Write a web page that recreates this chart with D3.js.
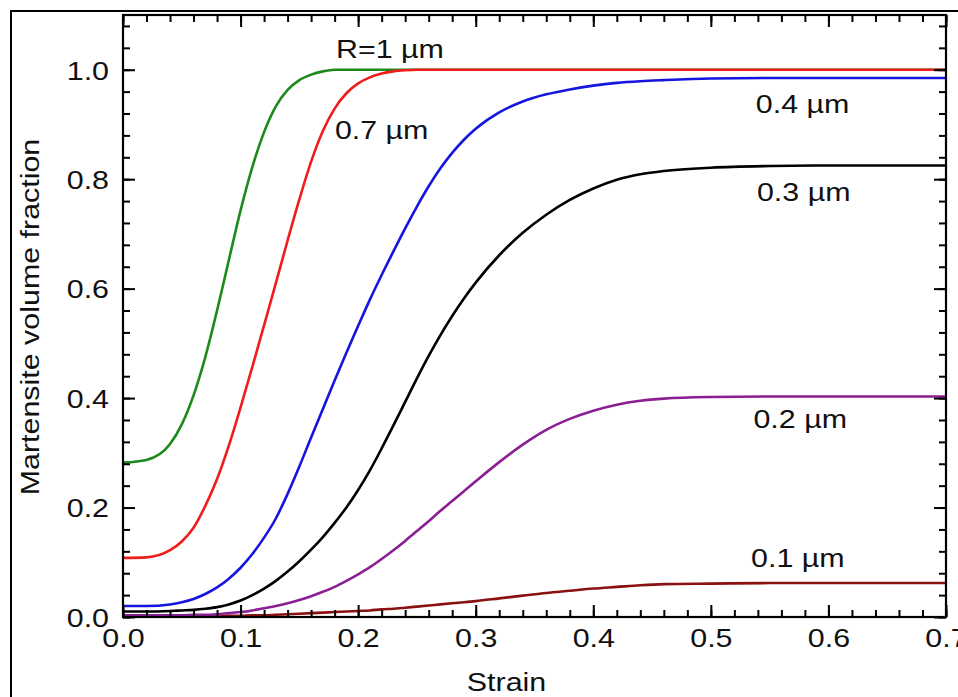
<!DOCTYPE html>
<html>
<head>
<meta charset="utf-8">
<script src="https://cdn.jsdelivr.net/npm/d3@7"></script>
<style>
  body { margin: 0; background: #fff; }
  svg { display: block; }
  text { font-family: Arial, "Liberation Sans", sans-serif; fill: #111; }
</style>
</head>
<body>
<script>
// strain grid shared by all the curves
const strain = [0, 0.02, 0.04, 0.05, 0.06, 0.07, 0.08, 0.09, 0.10, 0.11, 0.12, 0.13, 0.14, 0.15, 0.16, 0.17, 0.18, 0.19, 0.20,
  0.21, 0.22, 0.23, 0.24, 0.25, 0.26, 0.27, 0.28, 0.29, 0.30, 0.32, 0.34, 0.36, 0.38, 0.40, 0.42, 0.44, 0.46, 0.50, 0.55, 0.60, 0.70]

// martensite volume fraction for each grain radius
const r1 = [0.282, 0.287, 0.316, 0.352, 0.405, 0.475, 0.56, 0.652, 0.743, 0.822, 0.886, 0.933, 0.963, 0.981, 0.991, 0.997, 1, 1, 1,
  1, 1, 1, 1, 1, 1, 1, 1, 1, 1, 1, 1, 1, 1, 1, 1, 1, 1, 1, 1, 1, 1]
const r07 = [0.108, 0.109, 0.122, 0.138, 0.163, 0.203, 0.252, 0.313, 0.383, 0.457, 0.533, 0.61, 0.688, 0.763, 0.832, 0.888, 0.929, 0.957, 0.975,
  0.986, 0.993, 0.997, 0.999, 1, 1, 1, 1, 1, 1, 1, 1, 1, 1, 1, 1, 1, 1, 1, 1, 1, 1]
const r04 = [0.02, 0.02, 0.023, 0.027, 0.033, 0.042, 0.054, 0.07, 0.09, 0.115, 0.145, 0.18, 0.225, 0.275, 0.328, 0.38, 0.432, 0.483, 0.532,
  0.58, 0.625, 0.668, 0.71, 0.75, 0.787, 0.82, 0.848, 0.872, 0.892, 0.922, 0.942, 0.955, 0.964, 0.971, 0.976, 0.979, 0.981, 0.984, 0.985, 0.985, 0.985]
const r03 = [0.01, 0.01, 0.011, 0.012, 0.013, 0.015, 0.018, 0.023, 0.03, 0.04, 0.052, 0.066, 0.083, 0.102, 0.123, 0.146, 0.172, 0.2, 0.232,
  0.268, 0.308, 0.35, 0.393, 0.436, 0.477, 0.515, 0.55, 0.582, 0.611, 0.661, 0.702, 0.735, 0.762, 0.783, 0.799, 0.809, 0.815, 0.821, 0.824, 0.825, 0.825]
const r02 = [0.003, 0.003, 0.003, 0.003, 0.004, 0.004, 0.005, 0.007, 0.009, 0.012, 0.016, 0.02, 0.025, 0.031, 0.038, 0.046, 0.055, 0.066, 0.078,
  0.091, 0.106, 0.122, 0.139, 0.157, 0.175, 0.194, 0.212, 0.23, 0.248, 0.283, 0.315, 0.342, 0.362, 0.377, 0.388, 0.395, 0.399, 0.402, 0.403, 0.403, 0.403]
const r01 = [0, 0, 0, 0, 0.001, 0.001, 0.001, 0.002, 0.002, 0.003, 0.003, 0.004, 0.005, 0.006, 0.007, 0.008, 0.009, 0.01, 0.011,
  0.012, 0.014, 0.015, 0.017, 0.019, 0.021, 0.023, 0.025, 0.027, 0.029, 0.034, 0.039, 0.044, 0.048, 0.052, 0.055, 0.058, 0.06, 0.061, 0.062, 0.062, 0.062]

const xTicks = [0, 0.1, 0.2, 0.3, 0.4, 0.5, 0.6, 0.7]
const yTicks = [0, 0.2, 0.4, 0.6, 0.8, 1.0]

// label text and where its baseline centre sits (strain, fraction)
const curves = [
  {name: "R=1 µm", values: r1, color: "#1b8a1b", lx: 0.227, ly: 1.022},
  {name: "0.7 µm", values: r07, color: "#f01c1c", lx: 0.22, ly: 0.874},
  {name: "0.4 µm", values: r04, color: "#1515e0", lx: 0.578, ly: 0.921},
  {name: "0.3 µm", values: r03, color: "#000000", lx: 0.579, ly: 0.761},
  {name: "0.1 µm", values: r01, color: "#8b1010", lx: 0.574, ly: 0.091},
  {name: "0.2 µm", values: r02, color: "#8a1e92", lx: 0.576, ly: 0.345}
]

// the figure's lettering is wider than Arial
const stretch = "scale(1.17,1)"

function plot() {
  let margin = {top: 15, right: 12, bottom: 80, left: 123}
  let W = 958, H = 697
  let width = W - margin.left - margin.right
  let height = H - margin.top - margin.bottom

  let svg = d3.select("body").append("svg")
    .attr("width", W)
    .attr("height", H)

  // outer frame around the whole figure
  svg.append("rect")
    .attr("x", 11).attr("y", 11)
    .attr("width", W + 20).attr("height", H + 20)
    .attr("fill", "none").attr("stroke", "#000").attr("stroke-width", 2)

  let g = svg.append("g")
    .attr("transform", "translate(" + margin.left + "," + margin.top + ")")

  let x = d3.scaleLinear().domain([0, 0.7]).range([0, width])
  let y = d3.scaleLinear().domain([0, 1.1]).range([height, 0])

  g.append("clipPath").attr("id", "clip")
    .append("rect").attr("width", width).attr("height", height)

  // curves
  let line = d3.line()
    .x((d, i) => x(strain[i]))
    .y(d => y(d))
    .curve(d3.curveMonotoneX)

  g.append("g").attr("clip-path", "url(#clip)")
    .selectAll("path")
    .data(curves)
    .enter().append("path")
    .attr("d", d => line(d.values))
    .attr("fill", "none")
    .attr("stroke", d => d.color)
    .attr("stroke-width", 2.6)

  // ticks pointing inward on all four sides
  let xMinor = d3.range(0, 0.7001, 0.02)
  let yMinor = d3.range(0, 1.1001, 0.04)

  let axB = d3.axisBottom(x).tickValues(xTicks).tickSize(-12).tickFormat(d3.format(".1f"))
  let axL = d3.axisLeft(y).tickValues(yTicks).tickSize(-12).tickFormat(d3.format(".1f"))

  let minor = [
    d3.axisBottom(x).tickValues(xMinor).tickSize(-7).tickFormat(""),
    d3.axisTop(x).tickValues(xMinor).tickSize(-7).tickFormat(""),
    d3.axisLeft(y).tickValues(yMinor).tickSize(-7).tickFormat(""),
    d3.axisRight(y).tickValues(yMinor).tickSize(-7).tickFormat("")
  ]
  let major = [
    d3.axisTop(x).tickValues(xTicks).tickSize(-12).tickFormat(""),
    d3.axisRight(y).tickValues(yTicks).tickSize(-12).tickFormat("")
  ]
  let pos = ["translate(0," + height + ")", "", "", "translate(" + width + ",0)"]
  minor.forEach((a, i) => g.append("g").attr("transform", pos[i]).call(a))
  g.append("g").call(major[0])
  g.append("g").attr("transform", pos[3]).call(major[1])

  let xa = g.append("g").attr("transform", pos[0]).call(axB)
  let ya = g.append("g").call(axL)

  g.selectAll(".domain").remove()
  g.selectAll(".tick line").attr("stroke", "#000").attr("stroke-width", 2)
  g.selectAll(".tick text").attr("font-size", 26).attr("fill", "#111")
    .attr("font-family", "Arial, 'Liberation Sans', sans-serif")
  xa.selectAll(".tick text")
    .attr("y", 0).attr("dy", "0.71em")
    .attr("transform", "translate(0,12) " + stretch)
  ya.selectAll(".tick text")
    .attr("x", 0).attr("dy", "0.36em")
    .attr("transform", "translate(-14,0) " + stretch)

  // plot frame
  g.append("rect")
    .attr("width", width).attr("height", height)
    .attr("fill", "none").attr("stroke", "#000").attr("stroke-width", 2.2)

  // curve labels
  g.selectAll(".lab")
    .data(curves)
    .enter().append("text")
    .attr("class", "lab")
    .attr("transform", d => "translate(" + x(d.lx) + "," + y(d.ly) + ") " + stretch)
    .attr("text-anchor", "middle")
    .attr("font-size", 26)
    .text(d => d.name)

  // axis titles
  g.append("text")
    .attr("transform", "translate(" + (width / 2 - 28) + "," + (height + 74) + ") " + stretch)
    .attr("text-anchor", "middle")
    .attr("font-size", 26)
    .text("Strain")

  g.append("text")
    .attr("transform", "translate(-84," + (height / 2 + 1) + ") rotate(-90) " + stretch)
    .attr("text-anchor", "middle")
    .attr("font-size", 26)
    .text("Martensite volume fraction")
}

plot()
</script>
</body>
</html>
